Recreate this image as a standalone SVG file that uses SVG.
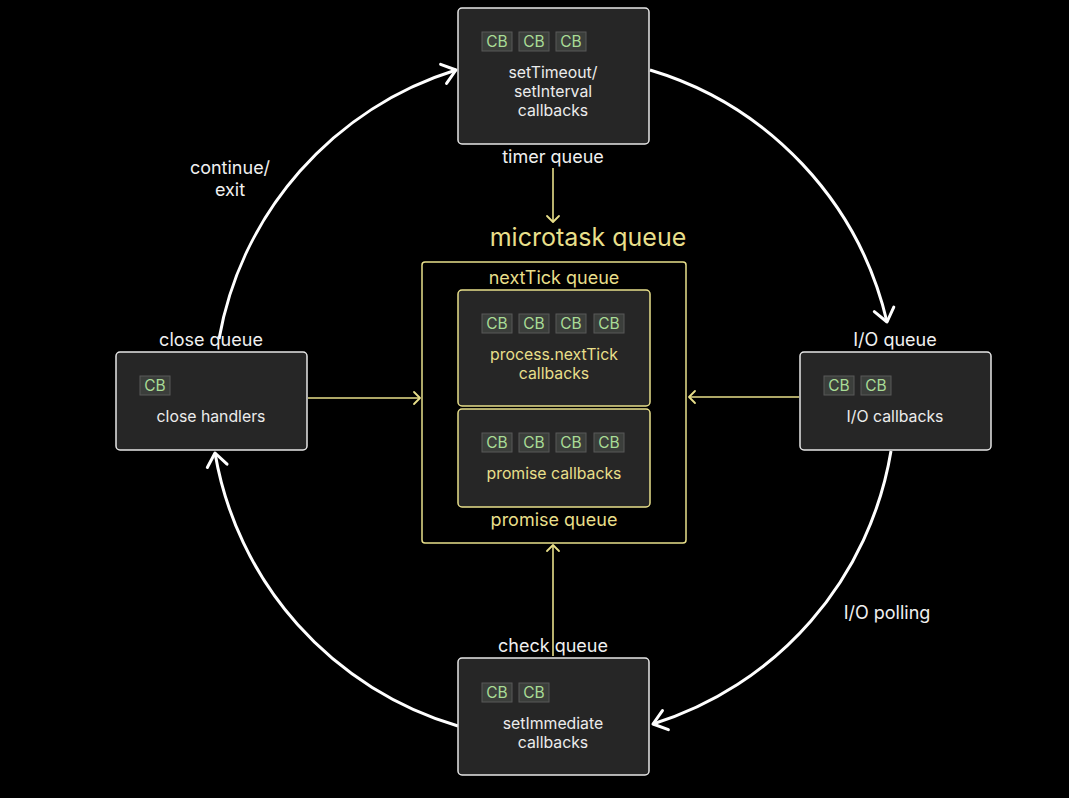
<svg xmlns="http://www.w3.org/2000/svg" width="1069" height="798" viewBox="0 0 1069 798">
  <style>
    text { font-family: Inter, "Noto Sans", "Liberation Sans", sans-serif; text-anchor: middle; }
    .box { fill: #262626; stroke: #e6e6e6; stroke-width: 1.5; }
    .ybox { fill: #262626; stroke: #e8df8a; stroke-width: 1.5; }
    .frame { fill: none; stroke: #e8df8a; stroke-width: 1.5; }
    .chip { fill: #3b3e3b; stroke: #595959; stroke-width: 1; }
    .cb { fill: #a9dc96; font-size: 15.5px; }
    .wt { fill: #ececec; font-size: 15.8px; }
    .yt { fill: #e8df8a; font-size: 15.8px; }
    .lbl { fill: #f0f0f0; font-size: 18px; }
    .ylbl { fill: #e8df8a; font-size: 18px; }
    .loop { fill: none; stroke: #ffffff; stroke-width: 3; marker-end: url(#wArrow); }
    .feed { fill: none; stroke: #e8df8a; stroke-width: 1.6; marker-end: url(#yArrow); }
  </style>
  <defs>
    <marker id="wArrow" markerUnits="userSpaceOnUse" markerWidth="30" markerHeight="30" viewBox="-15 -15 30 30" refX="0" refY="0" orient="auto">
      <path d="M -13 -10 L 0 0 L -13 10" fill="none" stroke="#ffffff" stroke-width="3" stroke-linecap="round" stroke-linejoin="round"/>
    </marker>
    <marker id="yArrow" markerUnits="userSpaceOnUse" markerWidth="20" markerHeight="20" viewBox="-10 -10 20 20" refX="0" refY="0" orient="auto">
      <path d="M -6 -6 L 0 0 L -6 6" fill="none" stroke="#e8df8a" stroke-width="1.8" stroke-linecap="round" stroke-linejoin="round"/>
    </marker>
    <g id="chip">
      <rect class="chip" x="0" y="0" width="30" height="19"/>
      <text class="cb" x="15" y="15">CB</text>
    </g>
  </defs>

  <rect width="1069" height="798" fill="#000000"/>

  <!-- event loop arcs and feeds into the microtask queue -->
  <g id="connectors">
    <path class="loop" d="M 650 70 A 345 345 0 0 1 887 322"/>
    <path class="loop" d="M 891 451 A 345 345 0 0 1 653 724"/>
    <path class="loop" d="M 458 726 A 345 345 0 0 1 215 453"/>
    <path class="loop" d="M 219 339 A 345 345 0 0 1 456 70"/>
    <path class="feed" d="M 553 168 L 553 222"/>
    <path class="feed" d="M 308 398 L 420 398"/>
    <path class="feed" d="M 799 397 L 689 397"/>
    <path class="feed" d="M 553 656 L 553 545"/>
  </g>

  <g id="loop-labels">
    <text class="lbl" x="230" y="174">continue/</text>
    <text class="lbl" x="230" y="196">exit</text>
    <text class="lbl" x="887" y="619">I/O polling</text>
  </g>

  <g id="timer-queue">
    <rect class="box" x="458" y="8" width="191" height="136" rx="4"/>
    <use href="#chip" x="482" y="32"/>
    <use href="#chip" x="519" y="32"/>
    <use href="#chip" x="556" y="32"/>
    <text class="wt" x="553" y="78">setTimeout/</text>
    <text class="wt" x="553" y="97">setInterval</text>
    <text class="wt" x="553" y="116">callbacks</text>
    <text class="lbl" x="553" y="163">timer queue</text>
  </g>

  <g id="microtask-queue">
    <text class="ylbl" x="588" y="246" style="font-size:25px">microtask queue</text>
    <rect class="frame" x="422" y="262" width="264" height="281" rx="3"/>
    <text class="ylbl" x="554" y="284">nextTick queue</text>
    <text class="ylbl" x="554" y="526">promise queue</text>
  </g>

  <g id="nexttick-queue">
    <rect class="ybox" x="458" y="290" width="192" height="116" rx="4"/>
    <use href="#chip" x="482" y="314"/>
    <use href="#chip" x="519" y="314"/>
    <use href="#chip" x="556" y="314"/>
    <use href="#chip" x="594" y="314"/>
    <text class="yt" x="554" y="360">process.nextTick</text>
    <text class="yt" x="554" y="379">callbacks</text>
  </g>

  <g id="promise-queue">
    <rect class="ybox" x="458" y="409" width="192" height="98" rx="4"/>
    <use href="#chip" x="482" y="433"/>
    <use href="#chip" x="519" y="433"/>
    <use href="#chip" x="556" y="433"/>
    <use href="#chip" x="594" y="433"/>
    <text class="yt" x="554" y="479">promise callbacks</text>
  </g>

  <g id="close-queue">
    <text class="lbl" x="211" y="346">close queue</text>
    <rect class="box" x="116" y="352" width="191" height="98" rx="4"/>
    <use href="#chip" x="140" y="376"/>
    <text class="wt" x="211" y="422">close handlers</text>
  </g>

  <g id="io-queue">
    <text class="lbl" x="895" y="346">I/O queue</text>
    <rect class="box" x="800" y="352" width="191" height="98" rx="4"/>
    <use href="#chip" x="824" y="376"/>
    <use href="#chip" x="861" y="376"/>
    <text class="wt" x="895" y="422">I/O callbacks</text>
  </g>

  <g id="check-queue">
    <text class="lbl" x="553" y="652">check queue</text>
    <rect class="box" x="458" y="658" width="191" height="117" rx="4"/>
    <use href="#chip" x="482" y="683"/>
    <use href="#chip" x="519" y="683"/>
    <text class="wt" x="553" y="729">setImmediate</text>
    <text class="wt" x="553" y="748">callbacks</text>
  </g>
</svg>
